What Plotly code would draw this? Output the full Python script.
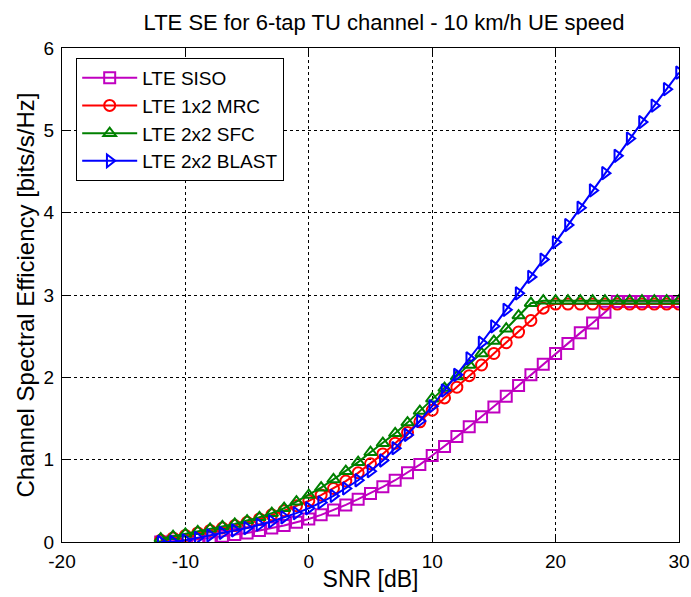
import plotly.graph_objects as go

# SNR grid in dB
snr = list(range(-12, 31))

siso = [0.00, 0.01, 0.02, 0.03, 0.05, 0.07, 0.09, 0.11, 0.14, 0.17, 0.20, 0.24,
        0.28, 0.33, 0.39, 0.45, 0.52, 0.59, 0.67, 0.75, 0.84, 0.94, 1.05, 1.16,
        1.28, 1.40, 1.52, 1.64, 1.77, 1.90, 2.03, 2.16, 2.29, 2.41, 2.54, 2.66,
        2.79, 2.92, 2.92, 2.92, 2.92, 2.92, 2.92]

mrc = [0.02, 0.05, 0.08, 0.11, 0.14, 0.17, 0.20, 0.24, 0.28, 0.33, 0.38, 0.44,
       0.50, 0.57, 0.65, 0.74, 0.84, 0.95, 1.07, 1.20, 1.33, 1.46, 1.60, 1.75,
       1.88, 2.02, 2.15, 2.29, 2.42, 2.55, 2.69, 2.84, 2.89, 2.89, 2.89, 2.89,
       2.89, 2.89, 2.89, 2.89, 2.89, 2.89, 2.89]

sfc = [0.04, 0.07, 0.10, 0.13, 0.16, 0.19, 0.22, 0.26, 0.30, 0.35, 0.41, 0.49,
       0.57, 0.66, 0.76, 0.86, 0.97, 1.09, 1.20, 1.32, 1.45, 1.59, 1.74, 1.87,
       2.01, 2.15, 2.29, 2.44, 2.59, 2.75, 2.90, 2.93, 2.93, 2.93, 2.93, 2.93,
       2.93, 2.93, 2.93, 2.93, 2.93, 2.93, 2.93]

blast = [0.00, 0.00, 0.02, 0.05, 0.08, 0.11, 0.14, 0.17, 0.21, 0.25, 0.30, 0.35,
         0.41, 0.48, 0.56, 0.65, 0.75, 0.86, 0.99, 1.14, 1.30, 1.47, 1.65, 1.84,
         2.03, 2.23, 2.42, 2.62, 2.82, 3.02, 3.22, 3.43, 3.64, 3.85, 4.06, 4.27,
         4.48, 4.69, 4.90, 5.10, 5.30, 5.50, 5.70]

series_names = ["LTE SISO", "LTE 1x2 MRC", "LTE 2x2 SFC", "LTE 2x2 BLAST"]
series_values = [siso, mrc, sfc, blast]
colors = ["#C000C0", "#FF0000", "#008000", "#0000FF"]
symbols = ["square-open", "circle-open", "triangle-up-open", "triangle-right-open"]

# Axis ticks (plain hyphen for negatives)
x_ticks = [-20, -10, 0, 10, 20, 30]
x_tick_labels = ["-20", "-10", "0", "10", "20", "30"]
y_ticks = [0, 1, 2, 3, 4, 5, 6]
y_tick_labels = ["0", "1", "2", "3", "4", "5", "6"]

FONT = "Arial, 'Liberation Sans', Helvetica, sans-serif"

fig = go.Figure()
for name, vals, col, sym in zip(series_names, series_values, colors, symbols):
    fig.add_trace(go.Scatter(
        x=snr, y=vals, name=name, mode="lines+markers",
        line=dict(color=col, width=2),
        marker=dict(symbol=sym, size=11, color=col, line=dict(color=col, width=2)),
    ))

axis_common = dict(
    showline=True, linecolor="black", linewidth=1, mirror="ticks",
    ticks="inside", ticklen=6, tickcolor="black",
    showgrid=True, gridcolor="black", griddash="3px,3px", gridwidth=1,
    zeroline=False, automargin=False, tickmode="array",
    tickfont=dict(family=FONT, size=19, color="black"),
)

fig.update_layout(
    width=691, height=597,
    paper_bgcolor="white", plot_bgcolor="white",
    margin=dict(l=62, r=12, t=48, b=55),
    title=dict(text="LTE SE for 6-tap TU channel - 10 km/h UE speed",
               x=0.522, xref="paper", xanchor="center", y=0.963, yanchor="middle",
               font=dict(family=FONT, size=22, color="black"), automargin=False),
    xaxis=dict(range=[-20, 30], tickvals=x_ticks, ticktext=x_tick_labels,
               ticklabelstandoff=2,
               title=dict(text="SNR [dB]", standoff=0,
                          font=dict(family=FONT, size=23, color="black")),
               **axis_common),
    yaxis=dict(range=[0, 6], tickvals=y_ticks, ticktext=y_tick_labels,
               ticklabelstandoff=3,
               title=dict(text="Channel Spectral Efficiency [bits/s/Hz]", standoff=2,
                          font=dict(family=FONT, size=24, color="black")),
               **axis_common),
    legend=dict(x=0.023, y=0.98, xanchor="left", yanchor="top",
                bgcolor="white", bordercolor="black", borderwidth=1,
                font=dict(family=FONT, size=19, color="black"),
                tracegroupgap=0, itemwidth=55),
    showlegend=True,
)

fig.write_html("out.html")
